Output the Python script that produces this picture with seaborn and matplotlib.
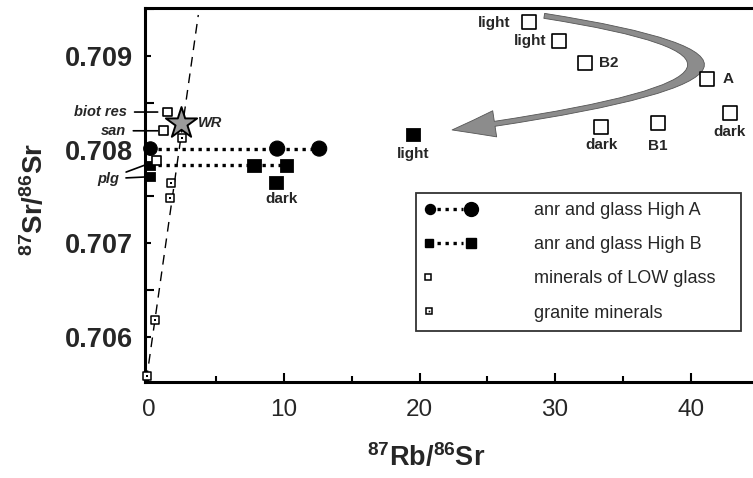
import matplotlib
matplotlib.use('Agg')
import matplotlib.pyplot as plt
import seaborn as sns
from matplotlib.lines import Line2D
from matplotlib.legend_handler import HandlerBase
from matplotlib.patches import FancyArrowPatch
from matplotlib.path import Path
from matplotlib.ticker import FormatStrFormatter, MultipleLocator

# ---- values ----
# anr and glass High A (filled circles on a dotted tie line)
high_a_rb = [0.15, 9.5, 12.6]
high_a_sr = [0.70801, 0.70801, 0.70801]
# anr and glass High B (filled squares), first three on a dotted tie line
high_b_rb = [0.15, 7.8, 10.2]
high_b_sr = [0.70783, 0.70783, 0.70783]
high_b_other_rb = [0.15, 9.4, 19.5]
high_b_other_sr = [0.70771, 0.70765, 0.70816]
high_b_other_lab = ['', 'dark', 'light']
# minerals of LOW glass (open squares)
low_rb = [1.40, 1.10, 0.59, 28.1, 30.3, 32.2, 41.2, 42.9, 37.6, 33.4]
low_sr = [0.70840, 0.70820, 0.70788, 0.70936, 0.70916, 0.70892,
          0.70875, 0.70839, 0.70828, 0.70824]
low_lab = ['biot res', 'san', 'plg', 'light', 'light', 'B2', 'A', 'dark', 'B1', 'dark']
# granite minerals (small squares with a dot)
granite_rb = [-0.1, 0.52, 1.62, 1.69, 2.50]
granite_sr = [0.70558, 0.70618, 0.70748, 0.70764, 0.70812]
# whole rock
wr_rb = [2.43]
wr_sr = [0.70828]
# reference isochron
iso_rb = [-0.15, 3.68]
iso_intercept = 0.705693
iso_slope = 0.001017

sns.set_style('ticks')
plt.rcParams['font.family'] = ['Liberation Sans', 'DejaVu Sans']
plt.rcParams['mathtext.fontset'] = 'custom'
plt.rcParams['mathtext.rm'] = 'Liberation Sans'
plt.rcParams['mathtext.bf'] = 'Liberation Sans:bold'

fig = plt.figure(figsize=(7.53, 4.78), dpi=100)
ax = fig.add_axes([0.1926, 0.2008, 0.8074, 0.7825])

# isochron
iso_sr = [iso_intercept + iso_slope * x for x in iso_rb]
ax.plot(iso_rb, iso_sr, color='black', lw=1.0, ls=(0, (7, 5)), zorder=2)

# dotted tie lines
dots = dict(color='black', lw=2.4, linestyle=(0, (1, 1.4)), dash_capstyle='butt')
sns.lineplot(x=high_a_rb, y=high_a_sr, ax=ax, zorder=2, **dots)
sns.lineplot(x=high_b_rb, y=high_b_sr, ax=ax, zorder=2, **dots)

# filled symbols
sns.scatterplot(x=high_a_rb, y=high_a_sr, ax=ax, marker='o', s=[95, 117, 117],
                color='black', edgecolor='black', zorder=3, clip_on=False)
sns.scatterplot(x=high_b_rb, y=high_b_sr, ax=ax, marker='s', s=[40, 95, 95],
                color='black', edgecolor='black', zorder=3, clip_on=False)
sns.scatterplot(x=high_b_other_rb, y=high_b_other_sr, ax=ax, marker='s',
                s=[40, 95, 95], color='black', edgecolor='black', zorder=3,
                clip_on=False)

# open squares
low_s = [40, 40, 40, 100, 100, 100, 100, 100, 100, 100]
sns.scatterplot(x=low_rb, y=low_sr, ax=ax, marker='s', s=low_s, color='white',
                edgecolor='black', linewidth=1.2, zorder=4, clip_on=False)

# granite minerals
sns.scatterplot(x=granite_rb, y=granite_sr, ax=ax, marker='s', s=28, color='white',
                edgecolor='black', linewidth=1.1, zorder=4, clip_on=False)
sns.scatterplot(x=granite_rb, y=granite_sr, ax=ax, marker='s', s=1.5, color='black',
                edgecolor='black', linewidth=0, zorder=5, clip_on=False)

# whole rock star
sns.scatterplot(x=wr_rb, y=wr_sr, ax=ax, marker='*', s=560, color='#9a9a9a',
                edgecolor='black', linewidth=1.4, zorder=6)
ax.annotate('WR', (wr_rb[0], wr_sr[0]), xytext=(12, 0), textcoords='offset points',
            ha='left', va='center', fontsize=10.5, fontweight='bold', style='italic')

# labels on the glass samples
right_pos = [(-14, -1, 'right'), (-9, 0, 'right'), (10, 0, 'left'), (11, 0, 'left'),
             (0, -14, 'center'), (0, -16, 'center'), (0, -13, 'center')]
for (dx, dy, ha), x, y, t in zip(right_pos, low_rb[3:], low_sr[3:], low_lab[3:]):
    ax.annotate(t, (x, y), xytext=(dx, dy), textcoords='offset points',
                ha=ha, va='center', fontsize=11, fontweight='bold')
for (dx, dy), x, y, t in zip([(0, 0), (4, -12), (0, -14)], high_b_other_rb,
                             high_b_other_sr, high_b_other_lab):
    if t:
        ax.annotate(t, (x, y), xytext=(dx, dy), textcoords='offset points',
                    ha='center', va='center', fontsize=11, fontweight='bold')

# mineral labels with leader lines
lead = dict(arrowstyle='-', lw=1.2, color='black', shrinkA=3)
lab_kw = dict(textcoords='offset points', ha='right', va='center', fontsize=10.5,
              fontweight='bold', style='italic', annotation_clip=False)
ax.annotate(low_lab[0], (low_rb[0], low_sr[0]), xytext=(-29, 0),
            arrowprops=dict(shrinkB=7, **lead), **lab_kw)
ax.annotate(low_lab[1], (low_rb[1], low_sr[1]), xytext=(-27, 0),
            arrowprops=dict(shrinkB=4, **lead), **lab_kw)
ax.annotate(low_lab[2], (low_rb[2], low_sr[2]), xytext=(-27, -13),
            arrowprops=dict(shrinkB=6, **lead), **lab_kw)
ax.annotate(low_lab[2], (high_b_other_rb[0], high_b_other_sr[0]), xytext=(-23, -1.5),
            arrowprops=dict(shrinkB=2, **lead), color='none', **lab_kw)

# curved grey arrow
arrow_path = Path([(29.2, 0.709426), (54.6, 0.708850), (22.4, 0.708209)],
                  [Path.MOVETO, Path.CURVE3, Path.CURVE3])
ax.add_patch(FancyArrowPatch(path=arrow_path,
                             arrowstyle='simple,head_length=3.1,head_width=1.9,tail_width=0.36',
                             mutation_scale=10, shrinkA=0, shrinkB=0,
                             facecolor='#8c8c8c', edgecolor='#555555', lw=0.6, zorder=3))

# axes
ax.set_xlim(-0.25, 44.6)
ax.set_ylim(0.70552, 0.70951)
ax.xaxis.set_major_locator(MultipleLocator(10))
ax.xaxis.set_minor_locator(MultipleLocator(5))
ax.yaxis.set_major_locator(MultipleLocator(0.001))
ax.yaxis.set_minor_locator(MultipleLocator(0.0005))
ax.yaxis.set_major_formatter(FormatStrFormatter('%.3f'))
for s in ['left', 'bottom', 'top']:
    ax.spines[s].set_linewidth(2.2)
    ax.spines[s].set_color('black')
ax.spines['right'].set_visible(False)
ax.tick_params(axis='both', which='both', direction='in', width=1.5, color='black')
ax.tick_params(axis='x', which='major', length=6.5, labelsize=17.5, pad=12)
ax.tick_params(axis='x', which='minor', length=4.3)
ax.tick_params(axis='y', which='major', length=4.3, labelsize=19.5, pad=9)
ax.tick_params(axis='y', which='minor', length=6.5)
for lab in ax.get_yticklabels():
    lab.set_fontweight('bold')

ax.set_xlabel(r'$\mathbf{^{87}Rb/^{86}Sr}$', fontsize=19.5, va='center')
ax.xaxis.set_label_coords(0.462, -0.203)
ax.set_ylabel(r'$\mathbf{^{87}Sr/^{86}Sr}$', fontsize=20, va='center')
ax.yaxis.set_label_coords(-0.181, 0.487)


# legend
class RowHandler(HandlerBase):
    def __init__(self, marks, dotted=False):
        super().__init__()
        self.marks = marks
        self.dotted = dotted

    def create_artists(self, legend, orig_handle, xdescent, ydescent,
                       width, height, fontsize, trans):
        y = height / 2 - ydescent
        x0 = -xdescent
        arts = []
        if self.dotted:
            arts.append(Line2D([x0 + 0.24 * width, x0 + 0.74 * width], [y, y],
                               transform=trans, **dots))
        for frac, kw in self.marks:
            arts.append(Line2D([x0 + frac * width], [y], ls='none',
                               transform=trans, **kw))
        return arts


filled = dict(color='black', mec='black')
handles = [Line2D([], []) for _ in range(4)]
hmap = {
    handles[0]: RowHandler([(0.1, dict(marker='o', ms=7.2, **filled)),
                            (0.9, dict(marker='o', ms=10, **filled))], dotted=True),
    handles[1]: RowHandler([(0.08, dict(marker='s', ms=5.8, **filled)),
                            (0.9, dict(marker='s', ms=7.5, **filled))], dotted=True),
    handles[2]: RowHandler([(0.06, dict(marker='s', ms=5, mfc='white', mec='black', mew=1.1))]),
    handles[3]: RowHandler([(0.08, dict(marker='s', ms=5, mfc='white', mec='black', mew=1.1)),
                            (0.08, dict(marker='s', ms=1.2, mfc='black', mec='black', mew=0))]),
}
leg = ax.legend(handles, ['anr and glass High A', 'anr and glass High B',
                          'minerals of LOW glass', 'granite minerals'],
                handler_map=hmap, loc='upper left', bbox_to_anchor=(0.446, 0.126, 0.534, 0.379),
                mode='expand', fontsize=13, frameon=True, fancybox=False,
                borderpad=0.5, labelspacing=0.95, handlelength=2.8, handletextpad=3.2,
                borderaxespad=0)
leg.get_frame().set_edgecolor('black')
leg.get_frame().set_linewidth(1.3)
leg.set_zorder(7)

fig.savefig('out.png', dpi=100)
